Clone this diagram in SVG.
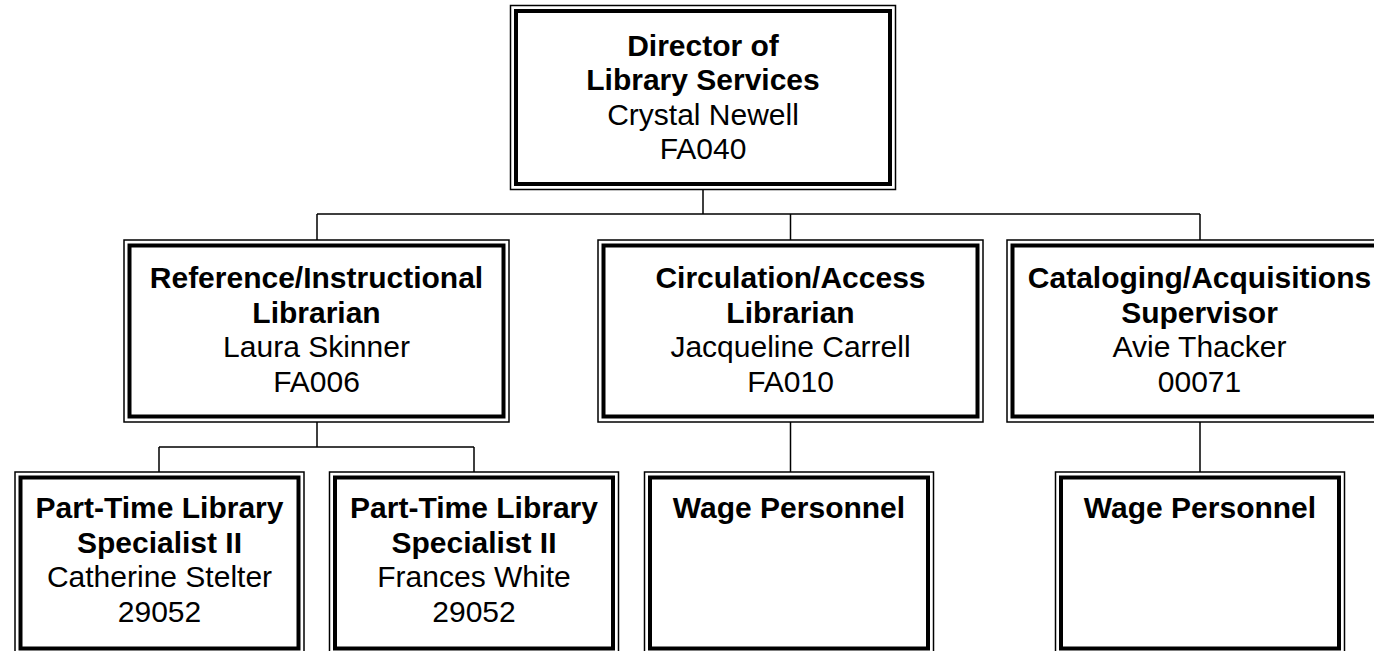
<svg xmlns="http://www.w3.org/2000/svg" width="1374" height="651" viewBox="0 0 1374 651">
<style>
.o{fill:none;stroke:#000;stroke-width:1.5}
.i{fill:none;stroke:#000;stroke-width:4}
.c{fill:none;stroke:#000;stroke-width:1.5}
.t{font-family:"Liberation Sans",Arial,sans-serif;font-size:30px;text-anchor:middle;fill:#000}
.b{font-weight:bold}
</style>
<rect width="1374" height="651" fill="#fff"/>
<g id="connectors">
<path class="c" d="M703,189.5V214M317,214H1200M317,214V240M790.5,214V240M1200,214V240"/>
<path class="c" d="M317,422V447M159,447H474M159,447V472M474,447V472"/>
<path class="c" d="M790.5,422V472M1200,422V472"/>
</g>
<g id="director">
<rect class="o" x="510.5" y="5.5" width="385" height="184"/>
<rect class="i" x="516" y="11" width="374" height="173"/>
<text class="t"><tspan class="b" x="703" y="55.5">Director of</tspan><tspan class="b" x="703" y="90">Library Services</tspan><tspan x="703" y="124.5">Crystal Newell</tspan><tspan x="703" y="159">FA040</tspan></text>
</g>
<g id="reference">
<rect class="o" x="124" y="240" width="385" height="182"/>
<rect class="i" x="129.5" y="245.5" width="374" height="171"/>
<text class="t"><tspan class="b" x="316.5" y="288">Reference/Instructional</tspan><tspan class="b" x="316.5" y="322.5">Librarian</tspan><tspan x="316.5" y="357">Laura Skinner</tspan><tspan x="316.5" y="391.5">FA006</tspan></text>
</g>
<g id="circulation">
<rect class="o" x="598" y="240" width="385" height="182"/>
<rect class="i" x="603.5" y="245.5" width="374" height="171"/>
<text class="t"><tspan class="b" x="790.5" y="288">Circulation/Access</tspan><tspan class="b" x="790.5" y="322.5">Librarian</tspan><tspan x="790.5" y="357">Jacqueline Carrell</tspan><tspan x="790.5" y="391.5">FA010</tspan></text>
</g>
<g id="cataloging">
<rect class="o" x="1007" y="240" width="385" height="182"/>
<rect class="i" x="1012.5" y="245.5" width="374" height="171"/>
<text class="t"><tspan class="b" x="1199.5" y="288">Cataloging/Acquisitions</tspan><tspan class="b" x="1199.5" y="322.5">Supervisor</tspan><tspan x="1199.5" y="357">Avie Thacker</tspan><tspan x="1199.5" y="391.5">00071</tspan></text>
</g>
<g id="parttime1">
<rect class="o" x="15" y="472" width="289" height="182"/>
<rect class="i" x="20.5" y="477.5" width="278" height="171"/>
<text class="t"><tspan class="b" x="159.5" y="518">Part-Time Library</tspan><tspan class="b" x="159.5" y="552.5">Specialist II</tspan><tspan x="159.5" y="587">Catherine Stelter</tspan><tspan x="159.5" y="621.5">29052</tspan></text>
</g>
<g id="parttime2">
<rect class="o" x="329.5" y="472" width="289" height="182"/>
<rect class="i" x="335" y="477.5" width="278" height="171"/>
<text class="t"><tspan class="b" x="474" y="518">Part-Time Library</tspan><tspan class="b" x="474" y="552.5">Specialist II</tspan><tspan x="474" y="587">Frances White</tspan><tspan x="474" y="621.5">29052</tspan></text>
</g>
<g id="wage1">
<rect class="o" x="644.5" y="472" width="289" height="182"/>
<rect class="i" x="650" y="477.5" width="278" height="171"/>
<text class="t b" x="789" y="518">Wage Personnel</text>
</g>
<g id="wage2">
<rect class="o" x="1055.5" y="472" width="289" height="182"/>
<rect class="i" x="1061" y="477.5" width="278" height="171"/>
<text class="t b" x="1200" y="518">Wage Personnel</text>
</g>
</svg>
